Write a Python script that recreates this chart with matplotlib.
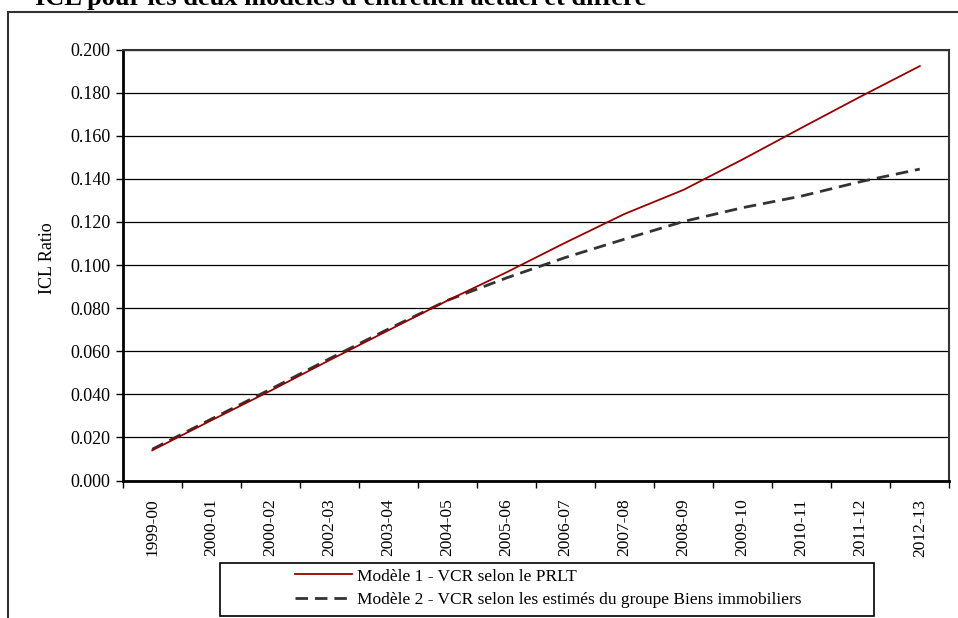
import matplotlib
matplotlib.use("Agg")
import matplotlib.pyplot as plt
from matplotlib.patches import Rectangle

categories = ["1999-00", "2000-01", "2000-02", "2002-03", "2003-04", "2004-05", "2005-06",
              "2006-07", "2007-08", "2008-09", "2009-10", "2010-11", "2011-12", "2012-13"]
model1 = [0.0140, 0.0279, 0.0416, 0.0558, 0.0697, 0.0835, 0.0966,
          0.1104, 0.1237, 0.1349, 0.1490, 0.1637, 0.1782, 0.1923]
model2 = [0.0145, 0.0285, 0.0423, 0.0565, 0.0703, 0.0836, 0.0940,
          0.1035, 0.1120, 0.1202, 0.1266, 0.1320, 0.1387, 0.1445]
label1 = "Modèle 1 - VCR selon le PRLT"
label2 = "Modèle 2 - VCR selon les estimés du groupe Biens immobiliers"
title = "ICL pour les deux modèles d'entretien actuel et différé"
ylabel = "ICL Ratio"
yticks = [0.0, 0.02, 0.04, 0.06, 0.08, 0.10, 0.12, 0.14, 0.16, 0.18, 0.20]

plt.rcParams['font.family'] = ['Liberation Serif', 'DejaVu Serif']

W, H = 958, 618
fig = plt.figure(figsize=(W / 100, H / 100), dpi=100)
fig.patch.set_facecolor("white")

# outer chart border (cut at right & bottom)
fig.patches.append(Rectangle((8 / W, -0.1), 1.2, (H - 12) / H + 0.1, transform=fig.transFigure,
                             fill=False, edgecolor="#333333", linewidth=1.5))

left, right, top, bottom = 122.7, 949.3, 49.5, 480.5
ax = fig.add_axes([left / W, (H - bottom) / H, (right - left) / W, (bottom - top) / H])

x = list(range(len(categories)))
ax.plot(x, model1, color="#990000", linewidth=1.3, label=label1, zorder=4)
ax.plot(x, model2, color="#333333", linewidth=2.0, dashes=(4.5, 2.5), label=label2, zorder=3)

ax.set_xlim(-0.5, len(categories) - 0.5)
ax.set_ylim(0, 0.2)
ax.set_yticks(yticks)
ax.set_yticklabels([f"{v:.3f}" for v in yticks], fontsize=13)
ax.yaxis.grid(True, color="black", linewidth=0.9)
ax.set_axisbelow(True)

ax.set_xticks([i - 0.5 for i in range(len(categories) + 1)])
ax.set_xticklabels([])
ax.set_xticks(x, minor=True)
ax.set_xticklabels(categories, minor=True, rotation=90, fontsize=12.5)
ax.tick_params(axis="x", which="minor", length=0, pad=13)
ax.tick_params(axis="x", which="major", length=5, width=1, direction="out")
ax.tick_params(axis="y", length=5, width=1, direction="out", pad=4)

for s in ["left", "bottom"]:
    ax.spines[s].set_linewidth(2.0)
    ax.spines[s].set_color("black")
for s in ["right", "top"]:
    ax.spines[s].set_linewidth(1.5)
    ax.spines[s].set_color("#333333")

fig.text(47 / W, 1 - 258 / H, ylabel, rotation=90, ha="center", va="center", fontsize=13)

# title (clipped at top like the reference)
fig.text(35 / W, 1 - 5 / H, title, ha="left", va="baseline", fontsize=19, fontweight="bold")

# legend box
fig.patches.append(Rectangle((220 / W, 1 - 616 / H), (874 - 220) / W, (616 - 563) / H,
                             transform=fig.transFigure, fill=False, edgecolor="black", linewidth=1.2))
leg = fig.legend(handles=ax.get_lines(), labels=[label1, label2], loc="center",
                 bbox_to_anchor=(548 / W, 1 - 588 / H), frameon=False, fontsize=12.5,
                 handlelength=3.3, handletextpad=0.3, labelspacing=0.4, borderpad=0)

fig.savefig("out.png", dpi=100)
